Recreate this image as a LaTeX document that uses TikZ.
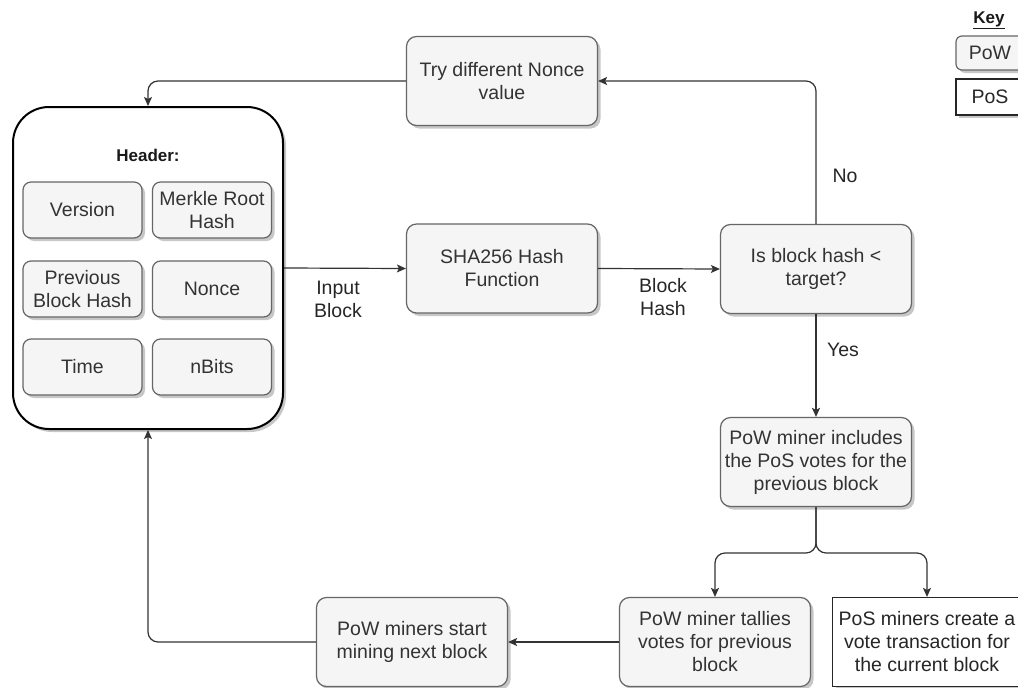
\documentclass[tikz,border=0pt]{standalone}
\usepackage{fontspec}
\setmainfont{Liberation Sans}
\usetikzlibrary{arrows.meta,shadows}

\definecolor{boxfill}{HTML}{F5F5F5}
\definecolor{boxline}{HTML}{666666}
\definecolor{txt}{HTML}{333333}
\definecolor{wire}{HTML}{333333}

\newcommand{\bodyfont}{\fontsize{19.5}{23}\selectfont}
\newcommand{\headfont}{\fontsize{17}{20}\selectfont\bfseries}

\tikzset{
  shade3/.style={drop shadow={shadow xshift=3pt, shadow yshift=-3pt, fill=black, opacity=0.22}},
  powbox/.style={draw=boxline, fill=boxfill, rounded corners=10pt, line width=1.2pt,
    text=txt, align=center, font=\bodyfont, inner sep=0pt, shade3},
  posbox/.style={draw=black!85, fill=white, line width=1.2pt,
    text=black!85, align=center, font=\bodyfont, inner sep=0pt, shade3},
  fieldbox/.style={powbox, rounded corners=8pt, minimum width=119pt, minimum height=56pt},
  flowbox/.style={powbox, minimum width=191pt, minimum height=89pt},
  wirearrow/.style={draw=wire, line width=1.2pt, rounded corners=10pt,
    -{Stealth[length=9pt,width=8pt,inset=2pt]}},
  lbl/.style={text=black!85, font=\bodyfont, align=center, inner sep=0pt}
}

\begin{document}
\begin{tikzpicture}[x=1pt, y=-1pt]
  \useasboundingbox (0,0) rectangle (1018,688);
  \clip (0,0) rectangle (1018,688);
  \fill[white] (0,0) rectangle (1018,688);

  % block header with its fields
  \node[draw=black, fill=white, rounded corners=36pt, line width=2pt, shade3,
        minimum width=270pt, minimum height=322pt, inner sep=0pt] (header) at (148,268) {};
  \node[text=black!90, font=\headfont] (headertitle) at (148,155) {Header:};
  \node[fieldbox] (version) at (82.5,210) {Version};
  \node[fieldbox] (merkle)  at (212,210)  {Merkle Root\\Hash};
  \node[fieldbox] (prev)    at (82.5,289) {Previous\\Block Hash};
  \node[fieldbox] (nonce)   at (212,289)  {Nonce};
  \node[fieldbox] (time)    at (82.5,367) {Time};
  \node[fieldbox] (nbits)   at (212,367)  {nBits};

  % main flow
  \node[flowbox] (retry) at (502,81)   {Try different Nonce\\value};
  \node[flowbox] (sha)   at (502,268.5) {SHA256 Hash\\Function};
  \node[flowbox] (check) at (816,269)  {Is block hash <\\target?};
  \node[flowbox] (votes) at (816,462)  {PoW miner includes\\the PoS votes for the\\previous block};
  \node[flowbox] (tally) at (715,642)  {PoW miner tallies\\votes for previous\\block};
  \node[posbox, minimum width=189pt, minimum height=89pt] (posvote) at (927,642)
        {PoS miners create a\\vote transaction for\\the current block};
  \node[flowbox] (next)  at (412,642)  {PoW miners start\\mining next block};

  % legend
  \node[text=black!90, font=\headfont] (keytitle) at (989,20) {\underline{Key}};
  \node[powbox, rounded corners=6pt, minimum width=68pt, minimum height=34pt] (keypow) at (990,53) {PoW};
  \node[posbox, minimum width=68pt, minimum height=36pt] (keypos) at (990,97) {PoS};

  % connectors
  \draw[wirearrow] (retry.west) -| (header.north);
  \draw[wirearrow] (header.east) -- (sha.west);
  \draw[wirearrow] (sha.east) -- (check.west);
  \draw[wirearrow] (check.north) |- (retry.east);
  \draw[wirearrow] (check.south) -- (votes.north);
  \coordinate (fork) at (816,553);
  \draw[wirearrow] (votes.south) -- (fork) -| (tally.north);
  \draw[wirearrow] (votes.south) -- (fork) -| (posvote.north);
  \draw[wirearrow] (tally.west) -- (next.east);
  \draw[wirearrow] (next.west) -| (header.south);

  % connector labels
  \node[lbl] (inlabel)  at (338,299) {Input\\Block};
  \node[lbl] (outlabel) at (663,297) {Block\\Hash};
  \node[lbl] (nolabel)  at (845,176) {No};
  \node[lbl] (yeslabel) at (843,350) {Yes};
\end{tikzpicture}
\end{document}
